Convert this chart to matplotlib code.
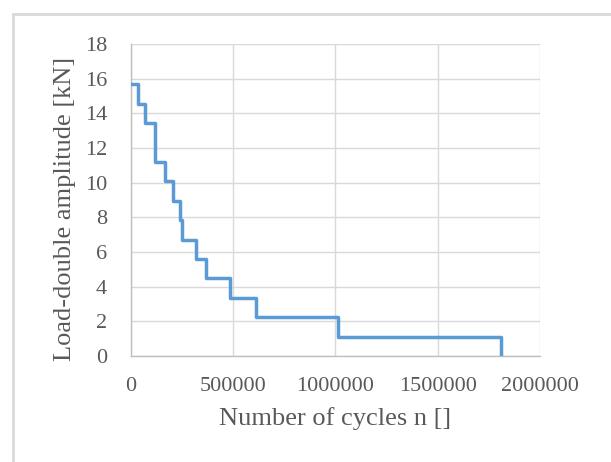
import matplotlib.pyplot as plt
from matplotlib.lines import Line2D

# step data
cycles = [0, 37000, 72000, 120000, 170000, 206000, 239000, 251000,
          318000, 367000, 483000, 613000, 1013000, 1808000, 1808000]
amplitude = [15.68, 14.56, 13.44, 11.2, 10.08, 8.96, 7.84, 6.72,
             5.6, 4.48, 3.36, 2.24, 1.12, 0, 0]

x_ticks = [0, 500000, 1000000, 1500000, 2000000]
y_ticks = [0, 2, 4, 6, 8, 10, 12, 14, 16, 18]

plt.rcParams['font.family'] = ['Liberation Serif', 'DejaVu Serif']

W, H = 611, 462
fig = plt.figure(figsize=(W / 100, H / 100), dpi=100)
ax = fig.add_axes([130.7 / W, 1 - 356 / H, (540 - 130.7) / W, (356 - 44) / H])

# chart frame (light grey, runs off the right/bottom edge)
frame = '#d9d9d9'
fig.add_artist(Line2D([13 / W, 13 / W], [0, 1 - 14 / H], color=frame, lw=2))
fig.add_artist(Line2D([13 / W, 1], [1 - 14 / H, 1 - 14 / H], color=frame, lw=2))

ax.step(cycles, amplitude, where='post', color='#5b9bd5', lw=2.5, zorder=3)

ax.set_xlim(0, 2000000)
ax.set_ylim(0, 18)
ax.set_xticks(x_ticks)
ax.set_yticks(y_ticks)
ax.set_xticklabels([str(v) for v in x_ticks])
ax.grid(True, color='#d9d9d9', lw=1)
ax.set_axisbelow(True)

for s in ['top', 'right']:
    ax.spines[s].set_visible(False)
for s in ['left', 'bottom']:
    ax.spines[s].set_color('#bfbfbf')
    ax.spines[s].set_linewidth(1)

ax.tick_params(length=0, labelsize=16, colors='#595959')
ax.tick_params(axis='y', pad=17)
ax.tick_params(axis='x', pad=15)
ax.set_xlabel('Number of cycles n []', fontsize=19, color='#595959', labelpad=8)
ax.set_ylabel('Load-double amplitude [kN]', fontsize=19, color='#595959')
ax.yaxis.set_label_coords(-0.133, 0.47)

fig.savefig('out.png', dpi=100)
